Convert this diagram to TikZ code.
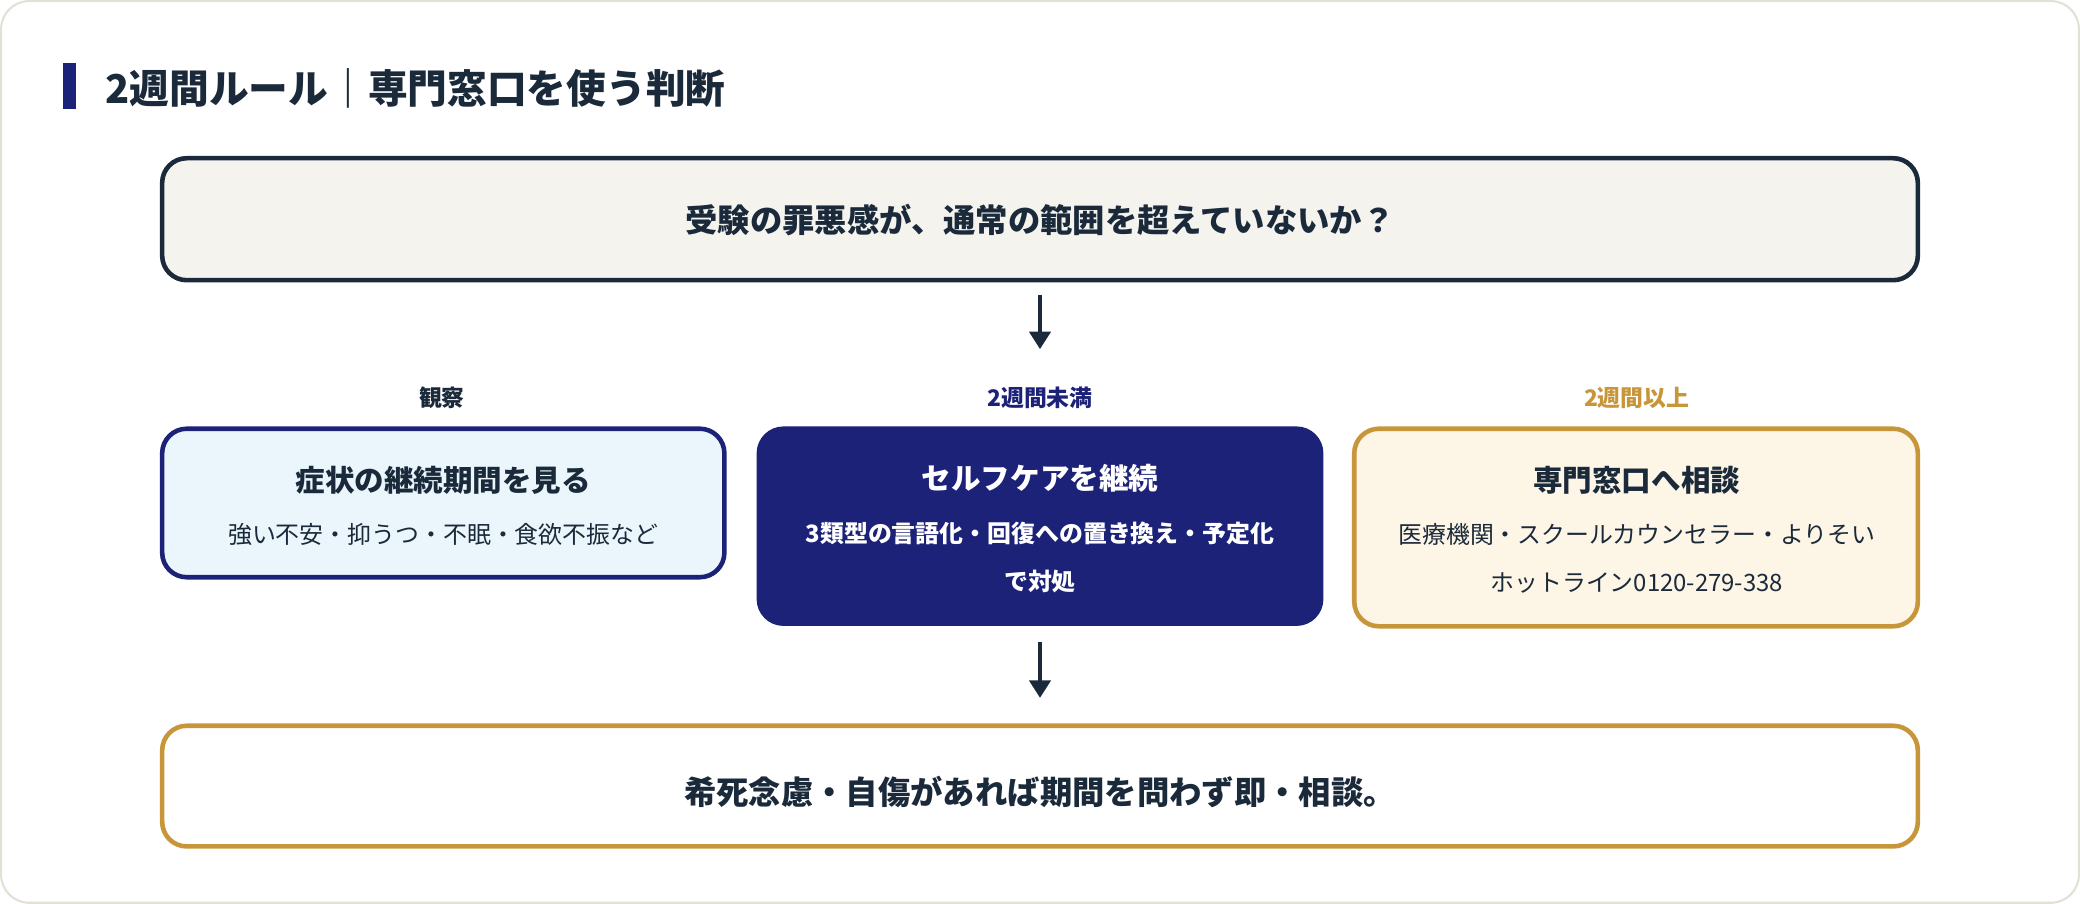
\documentclass[tikz,border=0pt]{standalone}
\usepackage{fontspec}
\setmainfont{Noto Sans CJK JP}
\usetikzlibrary{positioning}
\usetikzlibrary{arrows.meta}

\definecolor{ink}{HTML}{1B2A3A}
\definecolor{navy}{HTML}{1C2278}
\definecolor{gold}{HTML}{C8963A}
\definecolor{paper}{HTML}{F4F3EE}
\definecolor{sky}{HTML}{EAF6FC}
\definecolor{cream}{HTML}{FDF5E6}
\definecolor{frame}{HTML}{E3E1D6}

\begin{document}
\begin{tikzpicture}[x=0.013265cm, y=-0.013265cm]
    \tikzset{box/.style={draw, line width=1.3pt, rounded corners=7pt, text centered},
             tag/.style={font=\fontsize{6.5}{8}\selectfont\bfseries},
             head/.style={font=\fontsize{8.4}{10}\selectfont\bfseries},
             sub/.style={font=\fontsize{6.8}{10}\selectfont},
             flow/.style={-{Triangle[length=5pt, width=6pt]}, line width=1.2pt, draw=ink}}
    % frame
    \draw[frame, fill=white, rounded corners=8pt, line width=0.6pt] (0.5,0.5) rectangle (1567.5,680.5);
    \useasboundingbox (0,0) rectangle (1568,681);

    % title
    \fill[navy] (47,47) rectangle (57,82);
    \node[anchor=west, text=ink, font=\fontsize{11.3}{13}\selectfont\bfseries] (title) at (70,66) {2週間ルール｜専門窓口を使う判断};

    % question
    \draw[box, draw=ink, fill=paper] (122,119) rectangle (1446,211);
    \node[text=ink, font=\fontsize{9.2}{11}\selectfont\bfseries] (question) at (784,166) {受験の罪悪感が、通常の範囲を超えていないか？};
    \coordinate (qout) at (784,222);
    \coordinate (qin) at (784,263);
    \draw[flow] (qout) -- (qin);

    % tags
    \node[tag, text=ink] (tobs) at (333,300) {観察};
    \node[tag, text=navy] (tless) at (784,300) {2週間未満};
    \node[tag, text=gold] (tmore) at (1234,300) {2週間以上};

    % left
    \draw[box, draw=navy, fill=sky] (122,323) rectangle (546,435);
    \node[head, text=ink] (obs) at (334,362) {症状の継続期間を見る};
    \node[sub, text=ink] (obsd) at (334,403) {強い不安・抑うつ・不眠・食欲不振など};

    % middle
    \draw[box, draw=navy, fill=navy] (572,323) rectangle (996,470);
    \node[head, text=white] (care) at (784,360) {セルフケアを継続};
    \node[sub, text=white, font=\fontsize{6.8}{13.6}\selectfont\bfseries, align=center] (cared) at (784,420) {3類型の言語化・回復への置き換え・予定化\\で対処};

    % right
    \draw[box, draw=gold, fill=cream] (1021,323) rectangle (1446,472);
    \node[head, text=ink] (desk) at (1234,362) {専門窓口へ相談};
    \node[sub, text=ink, align=center, font=\fontsize{6.8}{13.6}\selectfont] (deskd) at (1234,421) {医療機関・スクールカウンセラー・よりそい\\ホットライン0120-279-338};

    \coordinate (mout) at (784,484);
    \coordinate (min) at (784,526);
    \draw[flow] (mout) -- (min);

    % bottom
    \draw[box, draw=gold, fill=white] (122,547) rectangle (1446,638);
    \node[text=ink, font=\fontsize{9.2}{11}\selectfont\bfseries] (urgent) at (784,597) {希死念慮・自傷があれば期間を問わず即・相談。};
\end{tikzpicture}
\end{document}
